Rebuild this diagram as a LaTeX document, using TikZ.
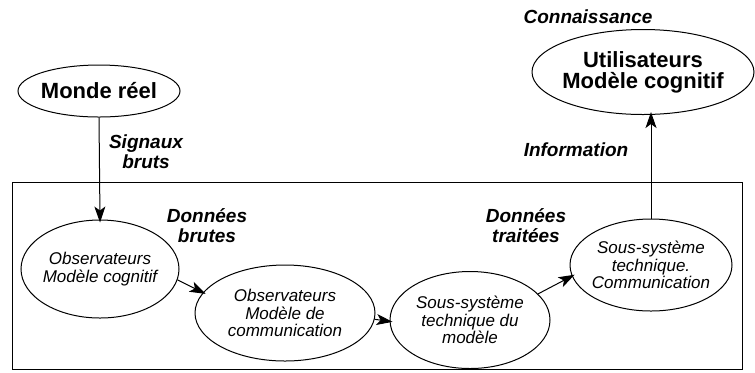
\documentclass[tikz,border=0pt]{standalone}
\usepackage{fontspec}
\setmainfont{Liberation Sans}
\usetikzlibrary{arrows.meta, positioning, shapes.geometric}

\begin{document}
\begin{tikzpicture}[x=0.5pt, y=-0.5pt, line width=0.5pt,
    every node/.style={align=center},
    bigbulle/.style={draw, ellipse, inner sep=-3pt, font=\fontsize{11}{10.5}\selectfont\bfseries},
    bulle/.style={draw, ellipse, inner sep=-3pt, font=\fontsize{8.5}{8.8}\selectfont\itshape},
    flux/.style={inner sep=0pt, font=\fontsize{9.5}{10}\selectfont\bfseries\itshape},
    fleche/.style={arrows={-Stealth[length=8pt, width=5.5pt, inset=2pt]}, shorten >=-1.5pt}]
    \useasboundingbox (0,0) rectangle (755,372);

    % Nodes
    \node[bigbulle, minimum width=81pt, minimum height=26pt] (monde) at (99,91) {Monde réel};
    \node[bigbulle, minimum width=111pt, minimum height=42.5pt] (users) at (643,72) {Utilisateurs\\Modèle cognitif};
    \node[draw, minimum width=365pt, minimum height=93.5pt] (systeme) at (377,275.5) {};
    \node[bulle, minimum width=79pt, minimum height=49pt] (obscog) at (100,269) {Observateurs\\Modèle cognitif};
    \node[bulle, minimum width=90pt, minimum height=48pt] (obscom) at (285,313) {Observateurs\\Modèle de\\communication};
    \node[bulle, minimum width=80pt, minimum height=48.5pt] (tech) at (470,320) {Sous-système\\technique du\\modèle};
    \node[bulle, minimum width=81pt, minimum height=46pt] (comm) at (651,265) {Sous-système\\technique.\\Communication};

    % Labels
    \node[flux] (signaux) at (146,152) {Signaux\\bruts};
    \node[flux] (brutes) at (207,226) {Données\\brutes};
    \node[flux] (traitees) at (526,226) {Données\\traitées};
    \node[flux] (info) at (576,150) {Information};
    \node[flux] (connaissance) at (588,17) {Connaissance};

    % Connections
    \draw[fleche] (monde.south) -- (obscog.north);
    \draw[fleche] (obscog.-8) -- (obscom.166);
    \draw[fleche] (obscom.-4) -- (tech.181);
    \draw[fleche] (tech.21) -- (comm.188);
    \draw[fleche] (comm.north) -- (comm.north |- users.south);
\end{tikzpicture}
\end{document}
